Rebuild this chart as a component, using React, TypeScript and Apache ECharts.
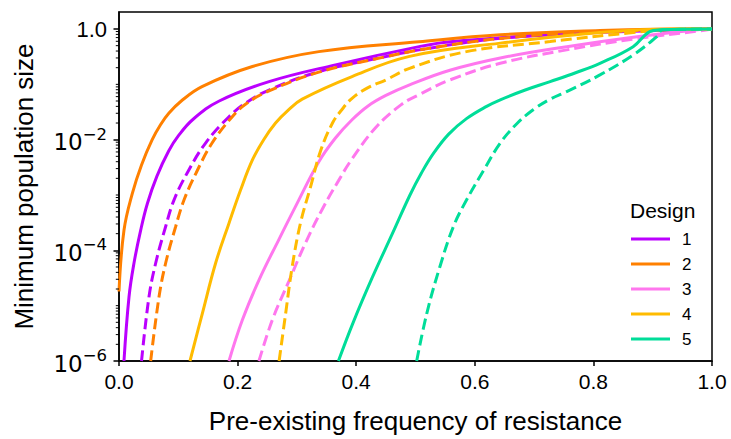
import { useEffect, useRef } from "react";
import * as echarts from "echarts";

const designs = ["1", "2", "3", "4", "5"];
const colors = ["#BB00FF", "#FF8000", "#FF77EE", "#FFBB00", "#00DD99"];

// [pre-existing frequency of resistance, minimum population size]
const d1Solid = [
  [0.0084, 1e-6], [0.0169, 1.45e-5], [0.0253, 5.9e-5], [0.0365, 2.3e-4], [0.048, 7.1e-4],
  [0.064, 2.2e-3], [0.084, 6.3e-3], [0.1, 0.0117], [0.125, 0.0234], [0.169, 0.05],
  [0.253, 0.112], [0.365, 0.225], [0.506, 0.48], [0.558, 0.59], [0.727, 0.785],
  [0.895, 0.93], [1, 1],
];
const d1Dashed = [
  [0.038, 1e-6], [0.0506, 1.45e-5], [0.0619, 5.9e-5], [0.0787, 2.7e-4], [0.0927, 8.1e-4],
  [0.115, 2.5e-3], [0.146, 8.7e-3], [0.1855, 0.026], [0.215, 0.047], [0.253, 0.079],
  [0.337, 0.17], [0.45, 0.318], [0.506, 0.42], [0.643, 0.68], [0.811, 0.9], [1, 1],
];
const d2Solid = [
  [0, 1.8e-5], [0.0084, 2.3e-4], [0.0225, 1.07e-3], [0.038, 3.5e-3], [0.056, 0.01],
  [0.07, 0.0186], [0.084, 0.03], [0.105, 0.05], [0.14, 0.091], [0.225, 0.21],
  [0.337, 0.39], [0.506, 0.59], [0.643, 0.785], [0.811, 0.94], [0.9, 0.99], [1, 1],
];
const d2Dashed = [
  [0.0534, 1e-6], [0.0675, 1.45e-5], [0.0787, 5.9e-5], [0.0956, 2.7e-4], [0.1096, 8.1e-4],
  [0.13, 2.5e-3], [0.157, 8.7e-3], [0.191, 0.026], [0.215, 0.045], [0.253, 0.076],
  [0.337, 0.166], [0.45, 0.316], [0.506, 0.417], [0.643, 0.676], [0.811, 0.89], [1, 1],
];
const d3Solid = [
  [0.1855, 1e-6], [0.208, 5.5e-6], [0.236, 2.9e-5], [0.27, 1.6e-4], [0.298, 6.3e-4],
  [0.337, 4.0e-3], [0.365, 0.0107], [0.393, 0.0229], [0.42, 0.0407], [0.45, 0.063],
  [0.49, 0.098], [0.558, 0.18], [0.643, 0.3], [0.755, 0.48], [0.867, 0.71],
  [0.98, 0.98], [1, 1],
];
const d3Dashed = [
  [0.236, 1e-6], [0.2585, 5.5e-6], [0.2867, 2.8e-5], [0.315, 1.4e-4], [0.343, 5.6e-4],
  [0.37, 1.8e-3], [0.393, 4.5e-3], [0.433, 0.0166], [0.476, 0.043], [0.506, 0.065],
  [0.558, 0.12], [0.643, 0.24], [0.755, 0.42], [0.867, 0.656], [0.98, 0.93], [1, 1],
];
const d4Solid = [
  [0.1197, 1e-6], [0.1405, 7.2e-6], [0.163, 5.9e-5], [0.1855, 3.1e-4], [0.205, 1.23e-3],
  [0.225, 4.3e-3], [0.244, 0.01], [0.264, 0.02], [0.285, 0.034], [0.309, 0.054],
  [0.393, 0.138], [0.49, 0.32], [0.643, 0.556], [0.811, 0.865], [0.92, 0.99], [1, 1],
];
const d4Dashed = [
  [0.27, 1e-6], [0.281, 7.2e-6], [0.292, 5.0e-5], [0.306, 3.1e-4], [0.323, 1.4e-3],
  [0.34, 6.3e-3], [0.36, 0.02], [0.375, 0.034], [0.393, 0.056], [0.42, 0.087],
  [0.45, 0.12], [0.49, 0.195], [0.586, 0.39], [0.727, 0.594], [0.867, 0.865],
  [0.93, 0.98], [1, 1],
];
const d5Solid = [
  [0.37, 1e-6], [0.395, 5e-6], [0.427, 3.2e-5], [0.461, 2.0e-4], [0.4907, 1e-3],
  [0.51, 2.5e-3], [0.53, 5.6e-3], [0.556, 0.0126], [0.586, 0.024], [0.62, 0.04],
  [0.643, 0.0525], [0.685, 0.079], [0.727, 0.112], [0.77, 0.162], [0.811, 0.24],
  [0.867, 0.48], [0.895, 0.9], [0.912, 0.966], [1, 1],
];
const d5Dashed = [
  [0.502, 1e-6], [0.519, 7.2e-6], [0.541, 5.0e-5], [0.564, 2.7e-4], [0.586, 8.1e-4],
  [0.615, 2.8e-3], [0.643, 8.7e-3], [0.67, 0.019], [0.699, 0.035], [0.727, 0.054],
  [0.755, 0.074], [0.811, 0.148], [0.867, 0.34], [0.907, 0.73], [0.917, 0.966], [1, 1],
];

const solidSets = [d1Solid, d2Solid, d3Solid, d4Solid, d5Solid];
const dashedSets = [d1Dashed, d2Dashed, d3Dashed, d4Dashed, d5Dashed];

const yMajorExponents = [-6, -4, -2, 0];
const yMinExp = -6;
const yMaxExp = 0.3075;

const FONT = "'Liberation Sans', Arial, sans-serif";
const MATH_FONT = "'DejaVu Sans', sans-serif";

export default function App() {
  const ref = useRef<HTMLDivElement>(null);
  useEffect(() => {
    if (!ref.current) return;
    const chart = echarts.init(ref.current, undefined, { renderer: "svg" });

    const toLog = (d: number[][]) => d.map(([x, y]) => [x, Math.log10(y)]);

    const minorTicks: number[] = [];
    for (let e = -6; e < 0; e++) {
      for (let k = 1; k <= 9; k++) {
        if (k === 1 && yMajorExponents.includes(e)) continue;
        minorTicks.push(Math.log10(k * Math.pow(10, e)));
      }
    }

    const series: any[] = [];
    designs.forEach((name, i) => {
      series.push({
        name,
        type: "line",
        data: toLog(solidSets[i]),
        showSymbol: false,
        symbol: "none",
        smooth: 0.4,
        lineStyle: { color: colors[i], width: 3 },
        itemStyle: { color: colors[i] },
        z: 2,
      });
      series.push({
        name: name + " (dashed)",
        type: "line",
        data: toLog(dashedSets[i]),
        showSymbol: false,
        symbol: "none",
        smooth: 0.4,
        lineStyle: { color: colors[i], width: 3, type: [11, 5] },
        itemStyle: { color: colors[i] },
        z: 2,
      });
    });

    // minor ticks of the log axis, placed through the axes' own scales
    series.push({
      name: "minor ticks",
      type: "custom",
      silent: true,
      clip: false,
      z: 5,
      data: minorTicks.map((v) => [0, v]),
      encode: { x: 0, y: 1 },
      renderItem: (_params: any, api: any) => {
        const p = api.coord([0, api.value(1)]);
        return {
          type: "line",
          shape: { x1: p[0] - 3.2, y1: p[1], x2: p[0], y2: p[1] },
          style: { stroke: "#000", lineWidth: 1 },
        };
      },
    });

    chart.setOption({
      animation: false,
      grid: {
        left: 119,
        right: 19,
        top: 12,
        bottom: 78,
        show: true,
        borderColor: "#000",
        borderWidth: 1.5,
        backgroundColor: "transparent",
      },
      legend: {
        data: designs,
        orient: "vertical",
        left: 631,
        top: 229,
        padding: 0,
        icon: "rect",
        itemWidth: 39,
        itemHeight: 3,
        itemGap: 5,
        textStyle: {
          fontFamily: FONT,
          fontSize: 17,
          lineHeight: 20,
          color: "#000",
          padding: [0, 0, 0, 7],
        },
        selectedMode: false,
      },
      graphic: [
        {
          type: "text",
          left: 630,
          top: 200,
          style: {
            text: "Design",
            fontFamily: FONT,
            fontSize: 21,
            fill: "#000",
          },
        },
      ],
      xAxis: {
        type: "value",
        min: 0,
        max: 1,
        interval: 0.2,
        name: "Pre-existing frequency of resistance",
        nameLocation: "middle",
        nameGap: 47,
        nameTextStyle: { fontFamily: FONT, fontSize: 26, color: "#000" },
        axisLine: { show: true, onZero: false, lineStyle: { color: "#000", width: 1.5 } },
        axisTick: { show: true, length: 5, lineStyle: { color: "#000", width: 1.5 } },
        axisLabel: {
          fontFamily: FONT,
          fontSize: 21,
          color: "#000",
          margin: 10,
          formatter: (v: number) => v.toFixed(1),
        },
        splitLine: { show: false },
      },
      yAxis: {
        type: "value",
        min: yMinExp,
        max: yMaxExp,
        name: "Minimum population size",
        nameLocation: "middle",
        nameGap: 82,
        nameRotate: 90,
        nameTextStyle: { fontFamily: FONT, fontSize: 26, color: "#000" },
        axisLine: { show: true, onZero: false, lineStyle: { color: "#000", width: 1.5 } },
        axisTick: { show: true, length: 5.5, lineStyle: { color: "#000", width: 1.5 }, customValues: yMajorExponents },
        axisLabel: {
          fontFamily: FONT,
          fontSize: 22,
          color: "#000",
          margin: 12,
          customValues: yMajorExponents,
          formatter: (v: number) => {
            const e = Math.round(v);
            if (e === 0) return "1.0";
            return `{b|10}{s|\u2212${-e}}`;
          },
          rich: {
            b: { fontFamily: MATH_FONT, fontSize: 23, lineHeight: 28, verticalAlign: "bottom", color: "#000" },
            s: { fontFamily: MATH_FONT, fontSize: 16.5, lineHeight: 16, verticalAlign: "top", color: "#000" },
          },
        },
        splitLine: { show: false },
      },
      series,
    });
    return () => chart.dispose();
  }, []);
  return (
    <div
      ref={ref}
      style={{ position: "fixed", left: 0, top: 0, width: 731, height: 439, background: "#fff" }}
    />
  );
}
